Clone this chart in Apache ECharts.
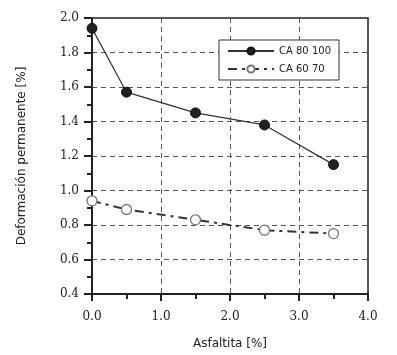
<!DOCTYPE html>
<html>
<head>
<meta charset="UTF-8">
<title></title>
<script src="https://cdn.jsdelivr.net/npm/echarts@6/dist/echarts.min.js"></script>
<style>
  html, body { margin: 0; padding: 0; background: #fff; }
  #chart { width: 397px; height: 355px; }
</style>
</head>
<body>
<div id="chart"></div>
<script type="text/javascript">
// datos
var asfaltita = [0, 0.5, 1.5, 2.5, 3.5];
var ca80100 = [1.94, 1.57, 1.45, 1.38, 1.15];
var ca6070 = [0.94, 0.89, 0.83, 0.77, 0.75];
var nombres = ['CA 80 100', 'CA 60 70'];

function pares(xs, ys) {
  var out = [];
  for (var i = 0; i < xs.length; i++) out.push([xs[i], ys[i]]);
  return out;
}

var chart = echarts.init(document.getElementById('chart'));
var tickFont = { fontFamily: 'DejaVu Serif', fontSize: 12, color: '#222' };
var dashed = { show: true, lineStyle: { color: '#555', type: [5, 4], width: 1 } };

var option = {
  animation: false,
  grid: {
    left: 92, right: 29, top: 18, bottom: 61,
    show: true, borderColor: '#222', borderWidth: 1.5
  },
  legend: {
    data: nombres,
    orient: 'vertical',
    left: 219, top: 40,
    itemWidth: 46, itemHeight: 9, itemGap: 8,
    padding: [6, 8],
    borderColor: '#333', borderWidth: 1,
    backgroundColor: '#fff',
    textStyle: { fontFamily: 'DejaVu Sans', fontSize: 10, color: '#222' }
  },
  xAxis: {
    type: 'value', min: 0, max: 4, interval: 1,
    name: 'Asfaltita [%]', nameLocation: 'middle', nameGap: 44,
    nameTextStyle: { fontFamily: 'DejaVu Sans', fontSize: 12, color: '#222' },
    axisLine: { lineStyle: { color: '#222', width: 2 } },
    axisTick: { length: 7, lineStyle: { width: 2, color: '#222' } },
    minorTick: { show: true, splitNumber: 2, length: 5, lineStyle: { width: 2, color: '#222' } },
    axisLabel: Object.assign({ formatter: function (v) { return v.toFixed(1); }, margin: 17 }, tickFont),
    splitLine: dashed
  },
  yAxis: {
    type: 'value', min: 0.4, max: 2.0, interval: 0.2,
    name: 'Deformación permanente [%]', nameLocation: 'middle', nameGap: 64,
    nameTextStyle: { fontFamily: 'DejaVu Sans', fontSize: 12, color: '#222' },
    axisLine: { lineStyle: { color: '#222', width: 2 } },
    axisTick: { length: 8, lineStyle: { width: 2, color: '#222' } },
    minorTick: { show: true, splitNumber: 2, length: 5, lineStyle: { width: 2, color: '#222' } },
    axisLabel: Object.assign({ formatter: function (v) { return v.toFixed(1); }, margin: 13 }, tickFont),
    splitLine: dashed
  },
  series: [
    {
      name: nombres[0],
      type: 'line',
      data: pares(asfaltita, ca80100),
      symbol: 'circle', symbolSize: 10,
      itemStyle: { color: '#222', borderColor: '#111', borderWidth: 1 },
      lineStyle: { color: '#333', width: 1.2 }
    },
    {
      name: nombres[1],
      type: 'line',
      data: pares(asfaltita, ca6070),
      symbol: 'circle', symbolSize: 10,
      itemStyle: { color: '#fff', borderColor: '#777', borderWidth: 1.3 },
      lineStyle: { color: '#333', width: 2, type: [9, 5, 3, 5] }
    }
  ]
};
chart.setOption(option);
</script>
</body>
</html>
